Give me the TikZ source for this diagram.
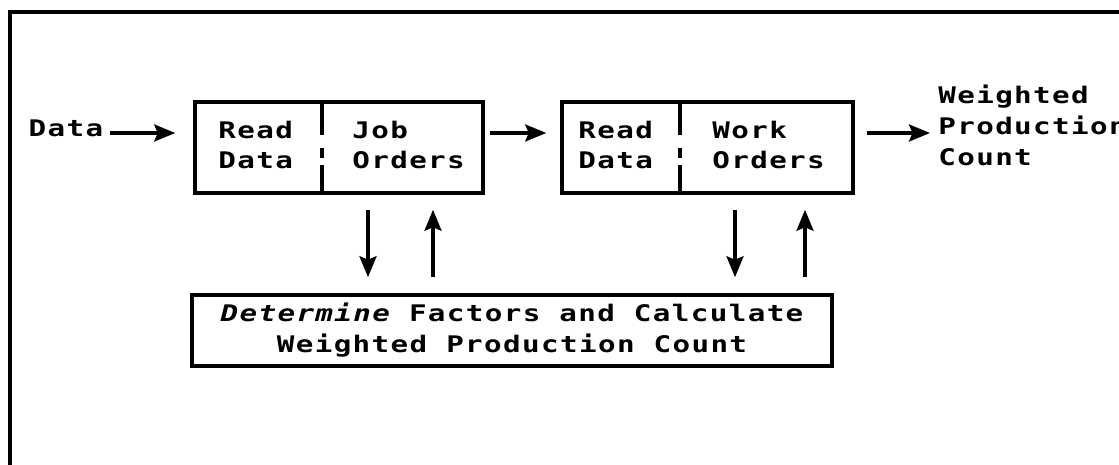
\documentclass[tikz,border=0pt]{standalone}
\usepackage{fontspec}
\newfontfamily\printfont{DejaVu Sans Mono}[FakeStretch=1.28,LetterSpace=6]
\usepackage{tikz}
\usetikzlibrary{arrows.meta}
\usetikzlibrary{calc}
\tikzstyle{block}=[draw,line width=2pt,minimum height=1.82cm,inner sep=0pt]
\tikzstyle{txt}=[font={\printfont\bfseries\fontsize{13}{17.6}\selectfont},inner sep=0pt,align=left]
\tikzstyle{edge} = [draw,line width=1.8pt,-{Stealth[length=0.42cm,width=0.34cm,inset=0.07cm]}]
\tikzstyle{divider} = [draw,line width=2pt,dash pattern=on 0.7cm off 0.26cm on 0.2cm off 0.14cm]
\tikzstyle{frame} = [draw,line width=2pt]

\begin{document}
\begin{tikzpicture}
    \useasboundingbox (0,0) rectangle (22.38,9.3);
    % Open frame round the chart
    \path[frame] (0.2,0) -- (0.2,9.06) -- (22.38,9.06);
    % First we draw the boxes
    \foreach \pos/\name/\w in {{(6.78,6.35)/jobbox/5.76cm}, {(14.15,6.35)/workbox/5.82cm}}
        \node[block,minimum width=\w] (\name) at \pos {};
    \node[block,txt,align=center,minimum width=12.8cm,minimum height=1.42cm] (calcbox) at (10.24,2.69)
        {{\itshape Determine} Factors and Calculate\\Weighted Production Count};
    \foreach \blk/\x in {jobbox/6.44, workbox/13.6}
        \path[divider] (\x,0 |- \blk.north) -- (\x,0 |- \blk.south);

    % Then the texts in and round the boxes
    \foreach \pos/\name/\label in {{(4.36,6.4)/jobread/Read\\Data}, {(7.04,6.4)/joborders/Job\\Orders},
    {(11.56,6.4)/workread/Read\\Data}, {(14.24,6.4)/workorders/Work\\Orders},
    {(18.76,6.8)/result/Weighted\\Production\\Count}}
        \node[txt,anchor=west] (\name) at \pos {\label};
    \node[txt] (datain) at (1.32,6.74) {Data};
    \coordinate (flow) at (0,6.64);

    % Connect boxes with arrows
    \path[edge,shorten <=0.12cm,shorten >=0.36cm] (datain.east |- flow) -- (jobbox.west |- flow);
    \path[edge,shorten <=0.1cm,shorten >=0.28cm] (jobbox.east |- flow) -- (workbox.west |- flow);
    \path[edge,shorten <=0.24cm,shorten >=0.16cm] (workbox.east |- flow) -- (result.west |- flow);
    \foreach \blk/\dx in {jobbox/0.58, workbox/0.55}
        \path[edge,shorten <=0.3cm,shorten >=0.32cm] ([xshift=\dx cm]\blk.south) -- ([xshift=\dx cm]\blk.south |- calcbox.north);
    \foreach \blk/\dx in {jobbox/1.88, workbox/1.95}
        \path[edge,shorten <=0.32cm,shorten >=0.3cm] ([xshift=\dx cm]\blk.south |- calcbox.north) -- ([xshift=\dx cm]\blk.south);
\end{tikzpicture}
\end{document}
